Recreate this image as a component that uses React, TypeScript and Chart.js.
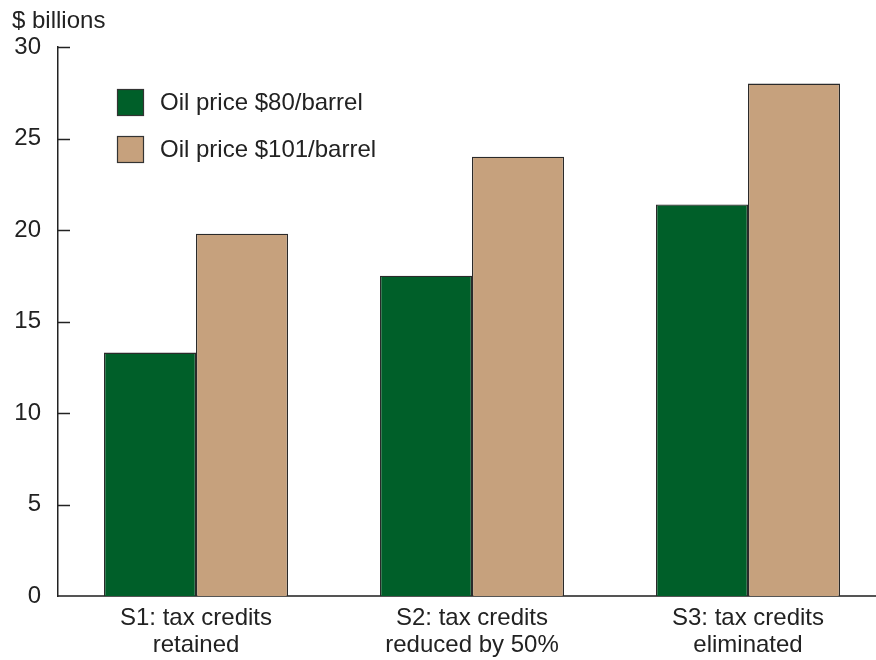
import React, { useEffect, useRef } from "react";
import { Chart, registerables } from "chart.js";

Chart.register(...registerables);

const categories: string[][] = [
  ["S1: tax credits", "retained"],
  ["S2: tax credits", "reduced by 50%"],
  ["S3: tax credits", "eliminated"],
];
const series80: number[] = [13.3, 17.5, 21.4];
const series101: number[] = [19.8, 24.0, 28.0];
const seriesLabels: string[] = ["Oil price $80/barrel", "Oil price $101/barrel"];
const seriesColors: string[] = ["#005F29", "#C6A17D"];
const yTicks: number[] = [0, 5, 10, 15, 20, 25, 30];
const unitLabel = "$ billions";

const FONT = "'Liberation Sans', Arial, Helvetica, sans-serif";
const FS = 24;

const overlayPlugin = {
  id: "overlay",
  afterDraw(chart: any) {
    const ctx = chart.ctx as CanvasRenderingContext2D;
    const area = chart.chartArea;
    const yScale = chart.scales.y;
    ctx.save();
    // inner tick marks on the y axis
    ctx.strokeStyle = "#222";
    ctx.lineWidth = 1.5;
    for (const v of yTicks) {
      if (v === 0) continue;
      const py = Math.round(yScale.getPixelForValue(v)) + 0.5;
      ctx.beginPath();
      ctx.moveTo(area.left, py);
      ctx.lineTo(area.left + 12, py);
      ctx.stroke();
    }
    // unit label
    ctx.fillStyle = "#222";
    ctx.font = `${FS}px ${FONT}`;
    ctx.textAlign = "left";
    ctx.textBaseline = "middle";
    ctx.fillText(unitLabel, 12, 21);
    // legend
    const ds = chart.data.datasets;
    const boxX = 117;
    const boxY = [89, 136];
    ds.forEach((d: any, i: number) => {
      ctx.fillStyle = d.backgroundColor;
      ctx.fillRect(boxX, boxY[i], 27, 27);
      ctx.strokeStyle = "#333";
      ctx.lineWidth = 1.2;
      ctx.strokeRect(boxX + 0.5, boxY[i] + 0.5, 26, 26);
      ctx.fillStyle = "#222";
      ctx.font = `${FS}px ${FONT}`;
      ctx.textAlign = "left";
      ctx.textBaseline = "middle";
      ctx.fillText(d.label, 160, boxY[i] + 14);
    });
    ctx.restore();
  },
};

export default function App() {
  const ref = useRef<HTMLCanvasElement | null>(null);
  useEffect(() => {
    if (!ref.current) return;
    const chart = new Chart(ref.current, {
      type: "bar",
      data: {
        labels: categories,
        datasets: [
          {
            label: seriesLabels[0],
            data: series80,
            backgroundColor: seriesColors[0],
            borderColor: "#2a2a2a",
            borderWidth: 1.3,
            barPercentage: 1,
            categoryPercentage: 184 / 276,
          },
          {
            label: seriesLabels[1],
            data: series101,
            backgroundColor: seriesColors[1],
            borderColor: "#2a2a2a",
            borderWidth: 1.3,
            barPercentage: 1,
            categoryPercentage: 184 / 276,
          },
        ],
      },
      options: {
        responsive: false,
        animation: false,
        devicePixelRatio: 1,
        layout: { padding: { top: 47, left: 0, right: 14, bottom: 0 } },
        plugins: {
          legend: { display: false },
          tooltip: { enabled: false },
          title: { display: false },
        },
        scales: {
          x: {
            offset: true,
            grid: { display: false, drawTicks: false },
            border: { display: true, color: "#555", width: 2 },
            ticks: {
              color: "#222",
              font: { family: FONT, size: FS, lineHeight: 1.12 },
              padding: 9,
              maxRotation: 0,
              autoSkip: false,
            },
            afterFit: (s: any) => {
              s.height = 64;
            },
          },
          y: {
            min: 0,
            max: 30,
            grid: { display: false, drawTicks: false },
            border: { display: true, color: "#222", width: 1.5 },
            afterBuildTicks: (s: any) => {
              s.ticks = yTicks.map((v) => ({ value: v }));
            },
            ticks: {
              color: "#222",
              font: { family: FONT, size: FS },
              padding: 17,
            },
            afterFit: (s: any) => {
              s.width = 58;
            },
          },
        },
      },
      plugins: [overlayPlugin],
    });
    return () => chart.destroy();
  }, []);
  return (
    <div
      style={{
        position: "fixed",
        left: 0,
        top: 0,
        width: 876,
        height: 660,
        overflow: "hidden",
        background: "#fff",
      }}
    >
      <canvas ref={ref} width={900} height={660} style={{ display: "block" }} />
    </div>
  );
}
